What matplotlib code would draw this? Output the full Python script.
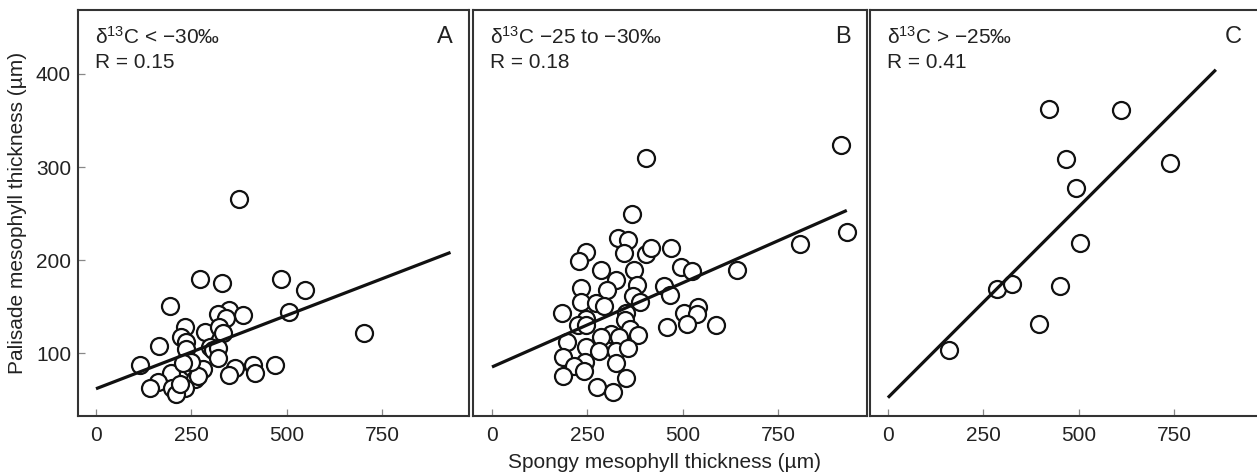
import matplotlib
matplotlib.use("Agg")
import matplotlib.pyplot as plt
import numpy as np

plt.rcParams['font.family'] = ['Liberation Sans', 'DejaVu Sans']
plt.rcParams['mathtext.fontset'] = 'custom'
plt.rcParams['mathtext.rm'] = 'Liberation Sans'
plt.rcParams['mathtext.it'] = 'Liberation Sans:italic'

# Panel A: d13C < -30 permil
a_x = [374, 274, 330, 486, 548, 195, 507, 348, 320, 385, 342, 703, 233, 287, 322, 333,
       224, 235, 165, 298, 237, 307, 320, 320, 115, 250, 282, 365, 411, 470, 417, 348,
       259, 267, 198, 163, 141, 200, 233, 209, 220, 250, 228]
a_y = [266, 180, 175, 180, 168, 151, 144, 146, 142, 141, 138, 122, 128, 123, 128, 121,
       117, 112, 108, 107, 104, 103, 105, 95, 87, 85, 83, 84, 87, 87, 78, 76,
       72, 75, 79, 69, 62, 62, 62, 56, 67, 90, 89]
# Panel B: d13C -25 to -30 permil
b_x = [914, 404, 367, 931, 807, 330, 356, 247, 227, 345, 404, 418, 469, 495, 523, 641,
       287, 324, 372, 379, 233, 302, 450, 467, 369, 389, 232, 273, 293, 184, 352, 504,
       541, 538, 247, 349, 226, 247, 458, 512, 588, 362, 382, 313, 285, 333, 197, 247,
       280, 326, 356, 185, 245, 326, 215, 241, 185, 350, 275, 317]
b_y = [324, 310, 249, 230, 217, 224, 222, 209, 199, 208, 206, 213, 213, 193, 188, 189,
       189, 178, 189, 173, 170, 168, 172, 162, 161, 155, 155, 154, 151, 143, 143, 143,
       149, 142, 137, 135, 130, 130, 128, 131, 130, 126, 119, 120, 117, 117, 112, 106,
       102, 102, 105, 96, 90, 89, 86, 81, 75, 73, 64, 58]
# Panel C: d13C > -25 permil
c_x = [423, 611, 468, 739, 493, 504, 285, 325, 452, 397, 160]
c_y = [362, 361, 309, 304, 277, 218, 169, 174, 172, 131, 103]

# Regression lines (intercept, slope, x end)
fit_a = (61.6, 0.1576, 930)
fit_b = (85.0, 0.181, 930)
fit_c = (52.0, 0.41, 860)

titles = ['δ$^{13}$C < \u221230‰', 'δ$^{13}$C \u221225 to \u221230‰', 'δ$^{13}$C > \u221225‰']
r_labels = ['R = 0.15', 'R = 0.18', 'R = 0.41']
letters = ['A', 'B', 'C']
xticks = [0, 250, 500, 750]
yticks = [100, 200, 300, 400]

W, H = 1257, 475
fig = plt.figure(figsize=(W / 100, H / 100), dpi=100)

frames = [(78, 469, -47.2, 978.5), (473, 867, -49.8, 983), (870, 1262, -47, 981)]
top, bottom = 10, 416
datasets = [(a_x, a_y, fit_a), (b_x, b_y, fit_b), (c_x, c_y, fit_c)]
axes = []
for i, ((l, r, x0, x1), (xs, ys, fit)) in enumerate(zip(frames, datasets)):
    ax = fig.add_axes([l / W, (H - bottom) / H, (r - l) / W, (bottom - top) / H])
    axes.append(ax)
    ax.set_xlim(x0, x1)
    ax.set_ylim(32.3, 468.8)
    ax.scatter(xs, ys, s=150, facecolors='white', edgecolors='#111111',
               linewidths=1.6, zorder=3)
    b0, m, xe = fit
    lx = np.array([0, xe])
    ax.plot(lx, b0 + m * lx, color='#111111', lw=2.3, zorder=4,
            solid_capstyle='butt')
    for s in ax.spines.values():
        s.set_color('#333333')
        s.set_linewidth(1.5)
    ax.set_xticks(xticks)
    ax.tick_params(axis='x', direction='in', length=5, width=0.9, color='#888888',
                   labelsize=15, pad=7, labelcolor='#222222')
    if i == 0:
        ax.set_yticks(yticks)
        ax.tick_params(axis='y', direction='in', length=5, width=0.9, color='#888888',
                       labelsize=15, pad=5, labelcolor='#222222')
    else:
        ax.set_yticks([])
    ax.text(0.044, 0.96, titles[i], transform=ax.transAxes, fontsize=15,
            va='top', ha='left', color='#222222')
    ax.text(0.044, 0.895, r_labels[i], transform=ax.transAxes, fontsize=15,
            va='top', ha='left', color='#222222')
    ax.text((r - 24 - l) / (r - l) if i < 2 else (1257 - 24 - l) / (r - l), 0.96,
            letters[i], transform=ax.transAxes, fontsize=17,
            va='top', ha='center', color='#222222')

fig.text(18 / W, 1 - 213 / H, 'Palisade mesophyll thickness (µm)', rotation=90,
         ha='center', va='center', fontsize=15, color='#222222')
fig.text(665 / W, 1 - 463 / H, 'Spongy mesophyll thickness (µm)',
         ha='center', va='center', fontsize=15, color='#222222')

fig.savefig('out.png', dpi=100)
